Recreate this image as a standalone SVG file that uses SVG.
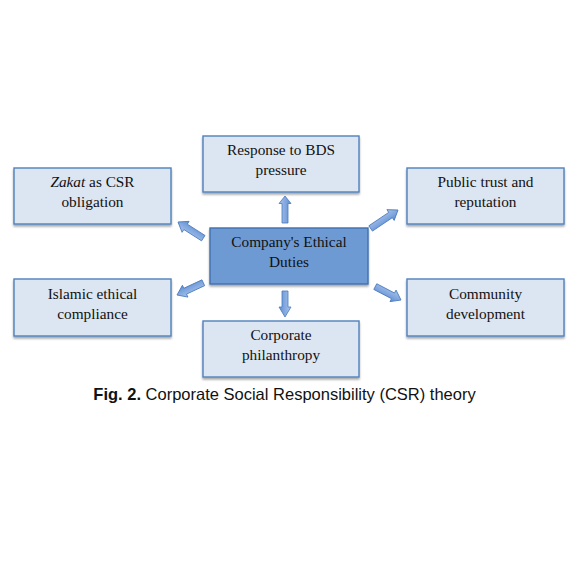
<svg xmlns="http://www.w3.org/2000/svg" width="588" height="582" viewBox="0 0 588 582">
<defs>
<linearGradient id="ag" x1="0" y1="0" x2="0" y2="1">
<stop offset="0" stop-color="#A9C4EB"/>
<stop offset="1" stop-color="#5F8FD4"/>
</linearGradient>
<filter id="sh" x="-10%" y="-10%" width="125%" height="130%">
<feGaussianBlur in="SourceAlpha" stdDeviation="1.2"/>
<feOffset dx="0" dy="2" result="b"/>
<feComponentTransfer><feFuncA type="linear" slope="0.35"/></feComponentTransfer>
<feMerge><feMergeNode/><feMergeNode in="SourceGraphic"/></feMerge>
</filter>
</defs>
<style>
.box{fill:#DCE6F2;stroke:#4F81BD;stroke-width:1.4;filter:url(#sh)}
.cbox{fill:#6E9AD3;stroke:#3F6FAF;stroke-width:1.4;filter:url(#sh)}
.t{font-family:"Liberation Serif","DejaVu Serif",serif;font-size:15.3px;fill:#111;text-anchor:middle}
.a{fill:url(#ag);stroke:#4A78BC;stroke-width:0.8}
.cap{font-family:"Liberation Sans",Arial,sans-serif;font-size:16.5px;fill:#111;text-anchor:middle}
</style>
<rect width="588" height="582" fill="#fff"/>
<g id="connectors">
<g transform="translate(285,196) rotate(-90)"><path class="a" d="M0,0 L-7.5,-6 L-7.5,-3 L-27,-3 L-27,3 L-7.5,3 L-7.5,6 Z"/></g>
<g transform="translate(285,317) rotate(90)"><path class="a" d="M0,0 L-10,-6 L-10,-3 L-26,-3 L-26,3 L-10,3 L-10,6 Z"/></g>
<g transform="translate(178,222) rotate(212.6)"><path class="a" d="M0,0 L-9,-6.5 L-9,-3.2 L-30,-3.2 L-30,3.2 L-9,3.2 L-9,6.5 Z"/></g>
<g transform="translate(398,210) rotate(-34)"><path class="a" d="M0,0 L-9,-6.5 L-9,-3.2 L-33,-3.2 L-33,3.2 L-9,3.2 L-9,6.5 Z"/></g>
<g transform="translate(177,295) rotate(155)"><path class="a" d="M0,0 L-9,-6.5 L-9,-3.2 L-29,-3.2 L-29,3.2 L-9,3.2 L-9,6.5 Z"/></g>
<g transform="translate(401,300) rotate(27.5)"><path class="a" d="M0,0 L-9,-6.5 L-9,-3.2 L-29,-3.2 L-29,3.2 L-9,3.2 L-9,6.5 Z"/></g>
</g>
<g id="center">
<rect class="cbox" x="210" y="228" width="158" height="56"/>
<text class="t" x="289" y="247">Company's Ethical</text>
<text class="t" x="289" y="267">Duties</text>
</g>
<g id="bds">
<rect class="box" x="203" y="136" width="156" height="56"/>
<text class="t" x="281" y="155">Response to BDS</text>
<text class="t" x="281" y="175">pressure</text>
</g>
<g id="zakat">
<rect class="box" x="14" y="168" width="157" height="56"/>
<text class="t" x="92.5" y="187"><tspan font-style="italic">Zakat</tspan> as CSR</text>
<text class="t" x="92.5" y="207">obligation</text>
</g>
<g id="trust">
<rect class="box" x="407" y="168" width="157" height="56"/>
<text class="t" x="485.5" y="187">Public trust and</text>
<text class="t" x="485.5" y="207">reputation</text>
</g>
<g id="islamic">
<rect class="box" x="14" y="279" width="157" height="57"/>
<text class="t" x="92.5" y="299">Islamic ethical</text>
<text class="t" x="92.5" y="319">compliance</text>
</g>
<g id="community">
<rect class="box" x="407" y="279" width="157" height="57"/>
<text class="t" x="485.5" y="299">Community</text>
<text class="t" x="485.5" y="319">development</text>
</g>
<g id="philanthropy">
<rect class="box" x="203" y="321" width="156" height="56"/>
<text class="t" x="281" y="340">Corporate</text>
<text class="t" x="281" y="360">philanthropy</text>
</g>
<text class="cap" x="284.5" y="400"><tspan font-weight="bold">Fig. 2.</tspan> Corporate Social Responsibility (CSR) theory</text>
</svg>
